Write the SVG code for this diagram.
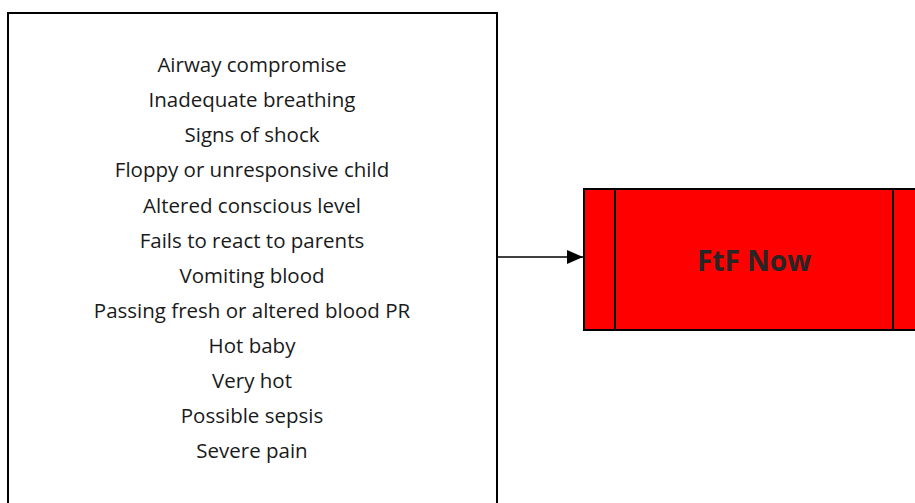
<svg xmlns="http://www.w3.org/2000/svg" width="915" height="503" viewBox="0 0 915 503">
  <style>
    .frame { fill: #ffffff; stroke: #000000; stroke-width: 2; }
    .item { font-family: "Open Sans", "Liberation Sans", sans-serif; font-size: 20.5px; fill: #1a1a1a; text-anchor: middle; }
    .urgent { fill: #ff0000; stroke: #000000; stroke-width: 2; }
    .divider { stroke: #000000; stroke-width: 2; }
    .title { font-family: "Open Sans", "Liberation Sans", sans-serif; font-size: 28px; font-weight: bold; fill: #262626; text-anchor: middle; }
    .link { stroke: #000000; stroke-width: 1.5; fill: none; }
  </style>
  <defs>
    <marker id="arrowhead" markerWidth="16" markerHeight="14" refX="16" refY="7" orient="auto" markerUnits="userSpaceOnUse">
      <path d="M0,0 L16,7 L0,14 Z" fill="#000000"/>
    </marker>
  </defs>

  <rect width="915" height="503" fill="#ffffff"/>

  <!-- Symptom list -->
  <g id="symptoms">
    <rect class="frame" x="8" y="13" width="489" height="500"/>
    <text class="item" x="252" y="72">Airway compromise</text>
    <text class="item" x="252" y="107">Inadequate breathing</text>
    <text class="item" x="252" y="142">Signs of shock</text>
    <text class="item" x="252" y="177">Floppy or unresponsive child</text>
    <text class="item" x="252" y="213">Altered conscious level</text>
    <text class="item" x="252" y="248">Fails to react to parents</text>
    <text class="item" x="252" y="283">Vomiting blood</text>
    <text class="item" x="252" y="318">Passing fresh or altered blood PR</text>
    <text class="item" x="252" y="353">Hot baby</text>
    <text class="item" x="252" y="388">Very hot</text>
    <text class="item" x="252" y="423">Possible sepsis</text>
    <text class="item" x="252" y="458">Severe pain</text>
  </g>

  <!-- Outcome box -->
  <g id="ftf-now">
    <rect class="urgent" x="584" y="189" width="340" height="141"/>
    <line class="divider" x1="615" y1="189" x2="615" y2="330"/>
    <line class="divider" x1="893" y1="189" x2="893" y2="330"/>
    <text class="title" x="754" y="271">FtF Now</text>
  </g>

  <!-- Connectors -->
  <g id="connectors">
    <line class="link" x1="497" y1="257" x2="583" y2="257" marker-end="url(#arrowhead)"/>
  </g>
</svg>
